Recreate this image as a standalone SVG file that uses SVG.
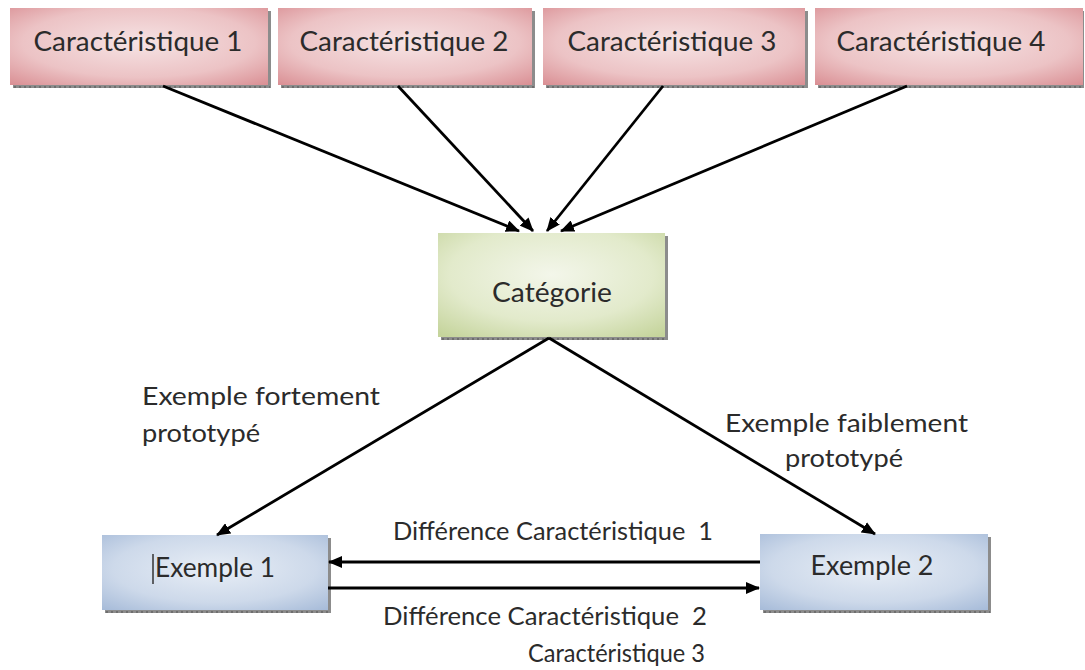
<svg xmlns="http://www.w3.org/2000/svg" width="1085" height="670" viewBox="0 0 1085 670">
  <defs>
    <radialGradient id="gPink" cx="0.5" cy="0.45" r="0.75">
      <stop offset="0" stop-color="#f6e3e4"/>
      <stop offset="0.6" stop-color="#ecc3c5"/>
      <stop offset="1" stop-color="#d98d92"/>
    </radialGradient>
    <radialGradient id="gGreen" cx="0.5" cy="0.4" r="0.75">
      <stop offset="0" stop-color="#f3f6ea"/>
      <stop offset="0.6" stop-color="#e2eacb"/>
      <stop offset="1" stop-color="#c5d49c"/>
    </radialGradient>
    <radialGradient id="gBlue" cx="0.5" cy="0.45" r="0.75">
      <stop offset="0" stop-color="#e8eef6"/>
      <stop offset="0.6" stop-color="#cdd9ea"/>
      <stop offset="1" stop-color="#a5bad8"/>
    </radialGradient>
    <marker id="arrow" viewBox="0 0 14 12" refX="13" refY="6" markerWidth="14" markerHeight="12" markerUnits="userSpaceOnUse" orient="auto">
      <path d="M0,0 L14,6 L0,12 Z" fill="#000"/>
    </marker>
    <style>
      .shadow { fill: #8c8c8c; }
      .dots { stroke: #6e6e6e; stroke-width: 2; stroke-dasharray: 2 3; }
      .lbl { font-family: Lato, "Open Sans", "Liberation Sans", sans-serif; fill: #2b2b2b; }
      .nodeText { font-size: 26px; text-anchor: middle; }
      .edgeText { font-size: 25px; }
      .conn { stroke: #000; stroke-width: 2.8; fill: none; }
    </style>
  </defs>

  <rect width="1085" height="670" fill="#fff"/>

  <!-- top row: characteristics -->
  <g id="carac1">
    <rect class="shadow" x="13" y="11" width="258" height="77"/>
    <rect x="10" y="8" width="258" height="77" fill="url(#gPink)"/>
    <line class="dots" x1="14" y1="87" x2="270" y2="87"/>
    <text class="lbl nodeText" x="138" y="51" textLength="209" lengthAdjust="spacingAndGlyphs">Caractéristique 1</text>
  </g>
  <g id="carac2">
    <rect class="shadow" x="281" y="11" width="254" height="77"/>
    <rect x="278" y="8" width="254" height="77" fill="url(#gPink)"/>
    <line class="dots" x1="282" y1="87" x2="534" y2="87"/>
    <text class="lbl nodeText" x="404" y="51" textLength="209" lengthAdjust="spacingAndGlyphs">Caractéristique 2</text>
  </g>
  <g id="carac3">
    <rect class="shadow" x="546" y="11" width="262" height="77"/>
    <rect x="543" y="8" width="262" height="77" fill="url(#gPink)"/>
    <line class="dots" x1="547" y1="87" x2="807" y2="87"/>
    <text class="lbl nodeText" x="672" y="51" textLength="209" lengthAdjust="spacingAndGlyphs">Caractéristique 3</text>
  </g>
  <g id="carac4">
    <rect class="shadow" x="818" y="11" width="266" height="77"/>
    <rect x="815" y="8" width="268" height="77" fill="url(#gPink)"/>
    <line class="dots" x1="819" y1="87" x2="1083" y2="87"/>
    <text class="lbl nodeText" x="941" y="51" textLength="209" lengthAdjust="spacingAndGlyphs">Caractéristique 4</text>
  </g>

  <!-- central category -->
  <g id="categorie">
    <rect class="shadow" x="441" y="236" width="227" height="104"/>
    <rect x="438" y="233" width="227" height="104" fill="url(#gGreen)"/>
    <line class="dots" x1="442" y1="339" x2="667" y2="339"/>
    <text class="lbl nodeText" x="552" y="302" textLength="120" lengthAdjust="spacingAndGlyphs">Catégorie</text>
  </g>

  <!-- examples -->
  <g id="exemple1">
    <rect class="shadow" x="105" y="538" width="226" height="75"/>
    <rect x="102" y="535" width="226" height="75" fill="url(#gBlue)"/>
    <line class="dots" x1="106" y1="612" x2="330" y2="612"/>
    <line x1="153" y1="554" x2="153" y2="584" stroke="#333" stroke-width="1.5"/>
    <text class="lbl nodeText" x="215" y="577" textLength="120" lengthAdjust="spacingAndGlyphs">Exemple 1</text>
  </g>
  <g id="exemple2">
    <rect class="shadow" x="763" y="537" width="228" height="76"/>
    <rect x="760" y="534" width="228" height="76" fill="url(#gBlue)"/>
    <line class="dots" x1="764" y1="612" x2="990" y2="612"/>
    <text class="lbl nodeText" x="872" y="575" textLength="123" lengthAdjust="spacingAndGlyphs">Exemple 2</text>
  </g>

  <!-- connectors -->
  <g id="connectors">
    <line class="conn" x1="163" y1="86" x2="519" y2="231" marker-end="url(#arrow)"/>
    <line class="conn" x1="398" y1="86" x2="533" y2="231" marker-end="url(#arrow)"/>
    <line class="conn" x1="663" y1="86" x2="547" y2="231" marker-end="url(#arrow)"/>
    <line class="conn" x1="907" y1="86" x2="561" y2="231" marker-end="url(#arrow)"/>
    <line class="conn" x1="549" y1="338" x2="217" y2="535" marker-end="url(#arrow)"/>
    <line class="conn" x1="549" y1="338" x2="875" y2="534" marker-end="url(#arrow)"/>
    <line class="conn" x1="760" y1="562" x2="329" y2="562" marker-end="url(#arrow)"/>
    <line class="conn" x1="328" y1="588" x2="759" y2="588" marker-end="url(#arrow)"/>
  </g>

  <!-- connector labels -->
  <g id="labels">
    <text class="lbl edgeText" x="142" y="405" textLength="238" lengthAdjust="spacingAndGlyphs">Exemple fortement</text>
    <text class="lbl edgeText" x="142" y="442" textLength="118" lengthAdjust="spacingAndGlyphs">prototypé</text>
    <text class="lbl edgeText" x="725" y="432" textLength="243" lengthAdjust="spacingAndGlyphs">Exemple faiblement</text>
    <text class="lbl edgeText" x="785" y="467" textLength="118" lengthAdjust="spacingAndGlyphs">prototypé</text>
    <text class="lbl edgeText" x="393" y="540" textLength="320" lengthAdjust="spacingAndGlyphs" xml:space="preserve">Différence Caractéristique  1</text>
    <text class="lbl edgeText" x="383" y="625" textLength="324" lengthAdjust="spacingAndGlyphs" xml:space="preserve">Différence Caractéristique  2</text>
    <text class="lbl edgeText" x="528" y="662" textLength="177" lengthAdjust="spacingAndGlyphs">Caractéristique 3</text>
  </g>
</svg>
